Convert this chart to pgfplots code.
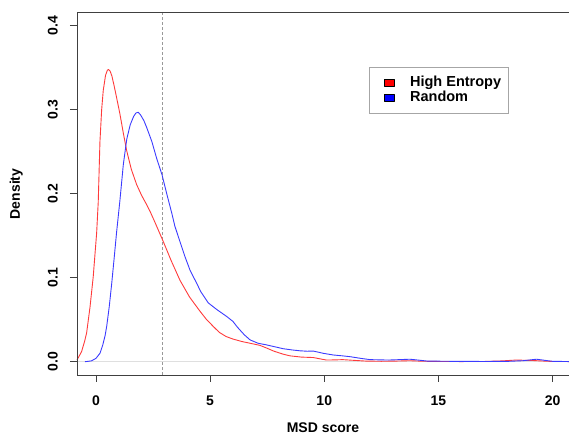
\documentclass[border=0pt]{standalone}
\usepackage{fontspec}
\setmainfont{Liberation Sans}
\usepackage{pgfplots}
\pgfplotsset{compat=1.18}
\usetikzlibrary{calc}
\definecolor{hired}{HTML}{FF3B3B}
\definecolor{rblue}{HTML}{3B3BFF}
\definecolor{frame}{HTML}{404040}
\definecolor{dashgray}{HTML}{999999}

\begin{document}
\begin{tikzpicture}
\begin{axis}[
  scale only axis, width=492pt, height=362.3pt,
  xmin=-0.83, xmax=20.72, ymin=-0.0158, ymax=0.4155,
  clip=false,
  axis line style={draw=none},
  tick align=outside, major tick length=7pt,
  tick style={frame, line width=0.9pt},
  xtick pos=bottom, ytick pos=left,
  xtick={0,5,10,15,20}, ytick={0,0.1,0.2,0.3,0.4},
  /pgf/number format/assume math mode=true,
  tick label style={font=\fontsize{14}{16}\selectfont\bfseries, inner sep=0pt},
  xticklabel style={anchor=north, yshift=-14pt},
  yticklabel style={rotate=90, anchor=south, yshift=12pt,
    /pgf/number format/fixed, /pgf/number format/fixed zerofill, /pgf/number format/precision=1},
  xlabel={MSD score}, ylabel={Density},
  label style={font=\fontsize{14}{16}\selectfont\bfseries, inner sep=0pt},
  xlabel style={at={(axis description cs:0.5,0)}, anchor=north, yshift=-48pt},
  ylabel style={at={(axis description cs:0,0.5)}, anchor=south, yshift=54pt},
  legend style={at={(axis cs:11.96,0.3508)}, anchor=north west, draw=gray!70, line width=0.9pt,
    inner xsep=7pt, inner ysep=8pt, column sep=16pt, row sep=0pt,
    font=\fontsize{14.5}{16}\selectfont\bfseries,
    nodes={inner sep=0pt, text height=11pt, text depth=4pt, anchor=west}},
  legend cell align=left,
]
\addplot[gray!25, line width=0.6pt, forget plot] coordinates {(-0.83,0) (20.72,0)};
\addplot[dashgray, dash pattern=on 3pt off 2pt, line width=1.2pt, forget plot] coordinates {(2.9,-0.0158) (2.9,0.4155)};
\addplot[hired, line width=0.9pt, line join=round,
  legend image code/.code={\path (0pt,0pt); \draw[fill=red, draw=black, line width=0.4pt] (7pt,-3.5pt) rectangle (17pt,3.5pt);}]
  coordinates {(-0.83,0.002) (-0.63,0.012) (-0.5,0.024) (-0.41,0.034) (-0.26,0.065) (-0.12,0.101) (0.03,0.153) (0.1,0.19)
  (0.175,0.262) (0.25,0.3) (0.32,0.323) (0.42,0.341) (0.5,0.347) (0.55,0.348) (0.62,0.346) (0.7,0.34) (0.8,0.328)
  (0.9,0.315) (1.05,0.295) (1.2,0.272) (1.34,0.252) (1.55,0.229) (1.78,0.211) (2.0,0.198) (2.2,0.188) (2.37,0.179)
  (2.6,0.165) (2.95,0.143) (3.3,0.12) (3.68,0.097) (4.1,0.077) (4.56,0.06) (4.85,0.05) (5.14,0.042) (5.4,0.035)
  (5.7,0.03) (6.0,0.027) (6.4,0.024) (6.75,0.022) (7.18,0.0195) (7.5,0.016) (7.8,0.0125) (8.2,0.009) (8.5,0.007)
  (9.0,0.0055) (9.52,0.005) (9.8,0.0035) (10.1,0.002) (10.5,0.0022) (10.8,0.0025) (11.2,0.0018) (11.8,0.0008)
  (12.5,0.0005) (13.2,0.0008) (13.75,0.0012) (14.3,0.0006) (15,0.0003) (16,0.0002) (17,0.0003) (17.8,0.001)
  (18.4,0.002) (19.1,0.0015) (19.6,0.0008) (20,0.0003) (20.72,0.0002)};
\addplot[rblue, line width=0.9pt, line join=round,
  legend image code/.code={\path (0pt,0pt); \draw[fill=blue, draw=black, line width=0.4pt] (7pt,-3.5pt) rectangle (17pt,3.5pt);}]
  coordinates {(-0.48,0) (-0.2,0.001) (0,0.004) (0.175,0.01) (0.3,0.02) (0.4,0.031) (0.47,0.042) (0.58,0.065)
  (0.69,0.093) (0.8,0.124) (0.9,0.153) (1.05,0.192) (1.2,0.235) (1.35,0.265) (1.5,0.282) (1.65,0.292) (1.75,0.296)
  (1.85,0.297) (1.95,0.294) (2.1,0.287) (2.22,0.279) (2.45,0.262) (2.66,0.242) (2.9,0.222) (3.1,0.2) (3.32,0.177)
  (3.46,0.161) (3.68,0.143) (3.9,0.125) (4.12,0.109) (4.4,0.094) (4.6,0.083) (4.92,0.07) (5.3,0.062) (5.72,0.054)
  (6.0,0.048) (6.2,0.041) (6.5,0.032) (6.75,0.026) (7.1,0.022) (7.48,0.02) (7.8,0.018) (8.2,0.0155) (8.6,0.014)
  (8.94,0.013) (9.25,0.0125) (9.52,0.0127) (9.96,0.01) (10.4,0.008) (10.8,0.007) (11.13,0.006) (11.6,0.004)
  (12.0,0.0025) (12.8,0.002) (13.3,0.0025) (13.75,0.003) (14.1,0.002) (14.5,0.0008) (15.5,0.0005) (17,0.0003)
  (18.0,0.0004) (18.7,0.0012) (19.3,0.003) (19.7,0.0015) (20,0.0005) (20.72,0.0002)};
\legend{High Entropy,Random}
\draw[frame, line width=0.9pt] (rel axis cs:1,1) -- (rel axis cs:0,1) -- (rel axis cs:0,0) -- (rel axis cs:1,0);
\coordinate (sw) at (rel axis cs:0,0);
\coordinate (ne) at (rel axis cs:1,1);
\end{axis}
\pgfresetboundingbox
\path[use as bounding box] ($(sw)+(-77pt,-60pt)$) rectangle ($(ne)+(0pt,12.7pt)$);
\end{tikzpicture}
\end{document}
